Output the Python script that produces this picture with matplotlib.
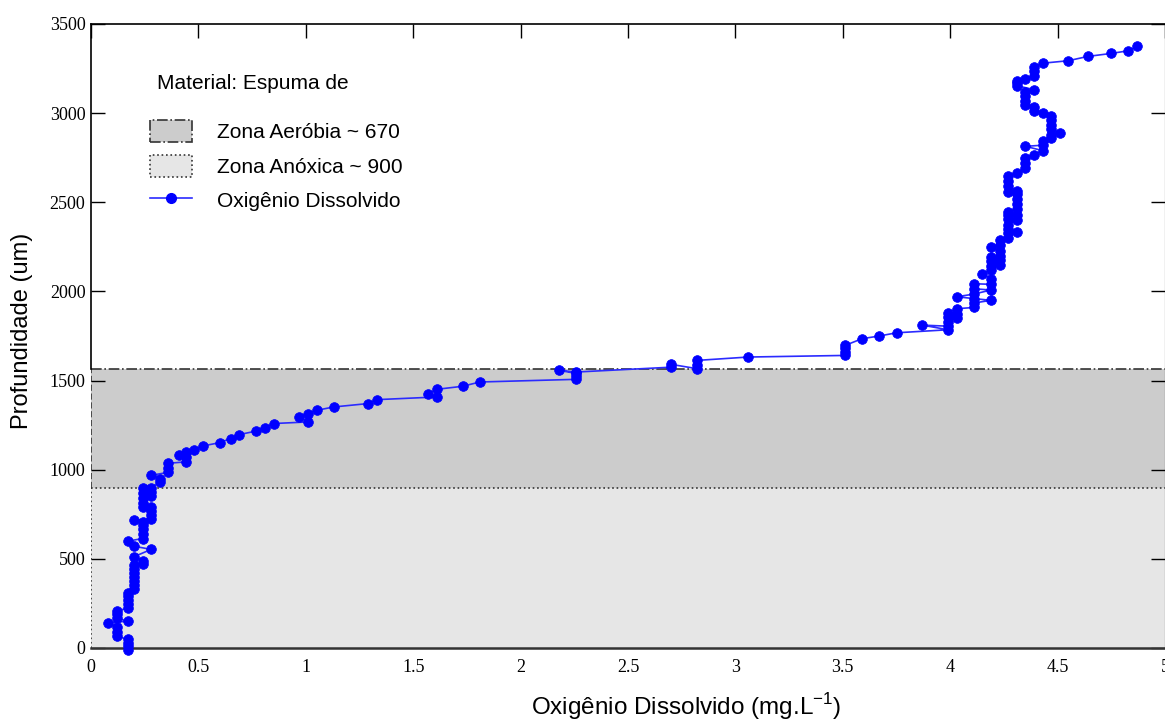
import matplotlib
matplotlib.use("Agg")
import matplotlib.pyplot as plt
from matplotlib.patches import Patch
from matplotlib.lines import Line2D

# perfil de oxigenio dissolvido (mg/L) vs profundidade (um)
oxigenio = [0.17, 0.17, 0.17, 0.17, 0.12, 0.12, 0.12, 0.08, 0.17, 0.12,
            0.12, 0.12, 0.17, 0.17, 0.17, 0.17, 0.17, 0.20, 0.20, 0.20,
            0.20, 0.20, 0.20, 0.20, 0.24, 0.24, 0.20, 0.28, 0.20, 0.17,
            0.24, 0.24, 0.24, 0.24, 0.24, 0.20, 0.28, 0.28, 0.28, 0.28,
            0.24, 0.24, 0.24, 0.28, 0.28, 0.24, 0.24, 0.28, 0.32, 0.32,
            0.28, 0.36, 0.36, 0.36, 0.44, 0.44, 0.41, 0.44, 0.48, 0.52,
            0.60, 0.65, 0.69, 0.77, 0.81, 0.85, 1.01, 0.97, 1.01, 1.05,
            1.13, 1.29, 1.33, 1.61, 1.57, 1.61, 1.73, 1.81, 2.26, 2.26,
            2.26, 2.18, 2.26, 2.70, 2.70, 2.82, 2.82, 2.82, 3.06, 3.51,
            3.51, 3.51, 3.51, 3.59, 3.67, 3.75, 3.99, 3.87, 3.99, 3.99,
            3.99, 4.03, 4.03, 3.99, 4.03, 4.11, 4.11, 4.19, 4.11, 4.03,
            4.11, 4.19, 4.11, 4.11, 4.19, 4.19, 4.15, 4.19, 4.19, 4.23,
            4.19, 4.23, 4.19, 4.23, 4.23, 4.19, 4.23, 4.23, 4.27, 4.27,
            4.31, 4.27, 4.27, 4.31, 4.27, 4.27, 4.31, 4.27, 4.31, 4.31,
            4.31, 4.31, 4.27, 4.31, 4.27, 4.27, 4.27, 4.31, 4.35, 4.35,
            4.35, 4.39, 4.43, 4.35, 4.43, 4.43, 4.47, 4.47, 4.51, 4.47,
            4.47, 4.47, 4.47, 4.43, 4.39, 4.39, 4.35, 4.35, 4.35, 4.35,
            4.39, 4.31, 4.31, 4.31, 4.35, 4.39, 4.39, 4.39, 4.43, 4.55,
            4.64, 4.75, 4.83, 4.87]
profundidade = [-10, 10, 30, 50, 65, 90, 115, 142, 150, 170,
                190, 205, 225, 248, 270, 290, 308, 330, 352, 375,
                398, 420, 443, 465, 472, 490, 512, 553, 571, 599,
                614, 640, 665, 690, 708, 717, 722, 745, 770, 792,
                790, 815, 840, 850, 875, 870, 900, 900, 930, 950,
                969, 985, 1010, 1036, 1044, 1070, 1081, 1100, 1113, 1133,
                1152, 1175, 1197, 1217, 1236, 1259, 1268, 1296, 1315, 1333,
                1352, 1371, 1393, 1408, 1427, 1451, 1468, 1492, 1507, 1523,
                1540, 1557, 1548, 1575, 1591, 1567, 1590, 1613, 1632, 1641,
                1660, 1680, 1697, 1735, 1750, 1768, 1785, 1811, 1805, 1830,
                1855, 1850, 1875, 1880, 1903, 1910, 1935, 1950, 1960, 1970,
                1985, 2008, 2015, 2043, 2040, 2070, 2099, 2120, 2145, 2150,
                2170, 2175, 2192, 2200, 2225, 2250, 2260, 2286, 2300, 2325,
                2336, 2350, 2375, 2400, 2405, 2430, 2430, 2445, 2460, 2490,
                2520, 2545, 2560, 2566, 2590, 2620, 2650, 2663, 2690, 2720,
                2750, 2767, 2790, 2814, 2820, 2846, 2860, 2880, 2889, 2910,
                2935, 2960, 2986, 2999, 3014, 3033, 3045, 3070, 3095, 3117,
                3132, 3154, 3168, 3182, 3191, 3210, 3235, 3257, 3280, 3294,
                3318, 3335, 3350, 3374]

zona_anoxica = 900
zona_aerobia = 1565

xticks = [0, 0.5, 1, 1.5, 2, 2.5, 3, 3.5, 4, 4.5, 5]
xticklabels = ["0", "0.5", "1", "1.5", "2", "2.5", "3", "3.5", "4", "4.5", "5"]
yticks = [0, 500, 1000, 1500, 2000, 2500, 3000, 3500]

plt.rcParams['font.family'] = ['Liberation Sans', 'DejaVu Sans']

fig = plt.figure(figsize=(11.65, 7.21), dpi=100)
ax = fig.add_axes([91 / 1165, 73 / 721, 1 - 91 / 1165, (648 - 24) / 721])

# zonas sombreadas (bordas desenhadas a parte)
ax.axhspan(0, zona_anoxica, facecolor="#e6e6e6", edgecolor="none", zorder=0)
ax.axhspan(zona_anoxica, zona_aerobia, facecolor="#cccccc", edgecolor="none", zorder=0)
ax.axhline(zona_anoxica, color="#333333", linestyle=":", linewidth=1.2, zorder=1)
ax.axhline(zona_aerobia, color="#333333", linestyle="-.", linewidth=1.2, zorder=1)
ax.vlines(0, 0, zona_anoxica, color="#333333", linestyle=":", linewidth=1.2, zorder=1)
ax.vlines(0, zona_anoxica, zona_aerobia, color="#333333", linestyle="--", linewidth=1.2, zorder=1)

ax.plot(oxigenio, profundidade, color="#2b2bff", linewidth=1.2, marker="o",
        markersize=7, markerfacecolor="#0000ff", markeredgecolor="#0000ff",
        markeredgewidth=0.5, clip_on=False, zorder=3)

ax.set_xlim(0, 5)
ax.set_ylim(0, 3500)
ax.set_xticks(xticks)
ax.set_xticklabels(xticklabels)
ax.set_yticks(yticks)
for lab in ax.get_xticklabels() + ax.get_yticklabels():
    lab.set_family("Liberation Serif")
    lab.set_fontsize(13)
ax.tick_params(axis="both", direction="in", length=10, width=1, top=True, right=True)
ax.tick_params(axis="x", bottom=False, pad=8)
ax.tick_params(axis="y", pad=4)
ax.spines["left"].set_bounds(zona_aerobia, 3500)
for s in ["top", "left"]:
    ax.spines[s].set_linewidth(1.2)
ax.spines["bottom"].set_linewidth(1.8)
ax.spines["bottom"].set_color("#333333")

ax.set_xlabel("Oxigênio Dissolvido (mg.L$^{\\mathregular{-1}}$)", fontsize=17.5)
ax.xaxis.set_label_coords(0.554, -0.069)
ax.set_ylabel("Profundidade (um)", fontsize=17)
ax.yaxis.set_label_coords(-0.054, 0.508)

# legenda
ax.text(0.0615, 0.9054, "Material: Espuma de", fontsize=15, va="center",
        ha="left", transform=ax.transAxes)
handles = [
    Patch(facecolor="#cccccc", edgecolor="#333333", linestyle="-.", linewidth=1.2),
    Patch(facecolor="#e6e6e6", edgecolor="#333333", linestyle=":", linewidth=1.2),
    Line2D([], [], color="#2b2bff", linewidth=1.2, marker="o", markersize=7,
           markerfacecolor="#0000ff", markeredgecolor="#0000ff"),
]
labels = ["Zona Aeróbia ~ 670", "Zona Anóxica ~ 900", "Oxigênio Dissolvido"]
ax.legend(handles, labels, loc="upper left", bbox_to_anchor=(0.0549, 0.846),
          frameon=False, fontsize=15, handlelength=2.0, handleheight=1.25,
          handletextpad=1.2, labelspacing=0.6, numpoints=1,
          borderpad=0, borderaxespad=0)

plt.savefig("out.png", dpi=100)
